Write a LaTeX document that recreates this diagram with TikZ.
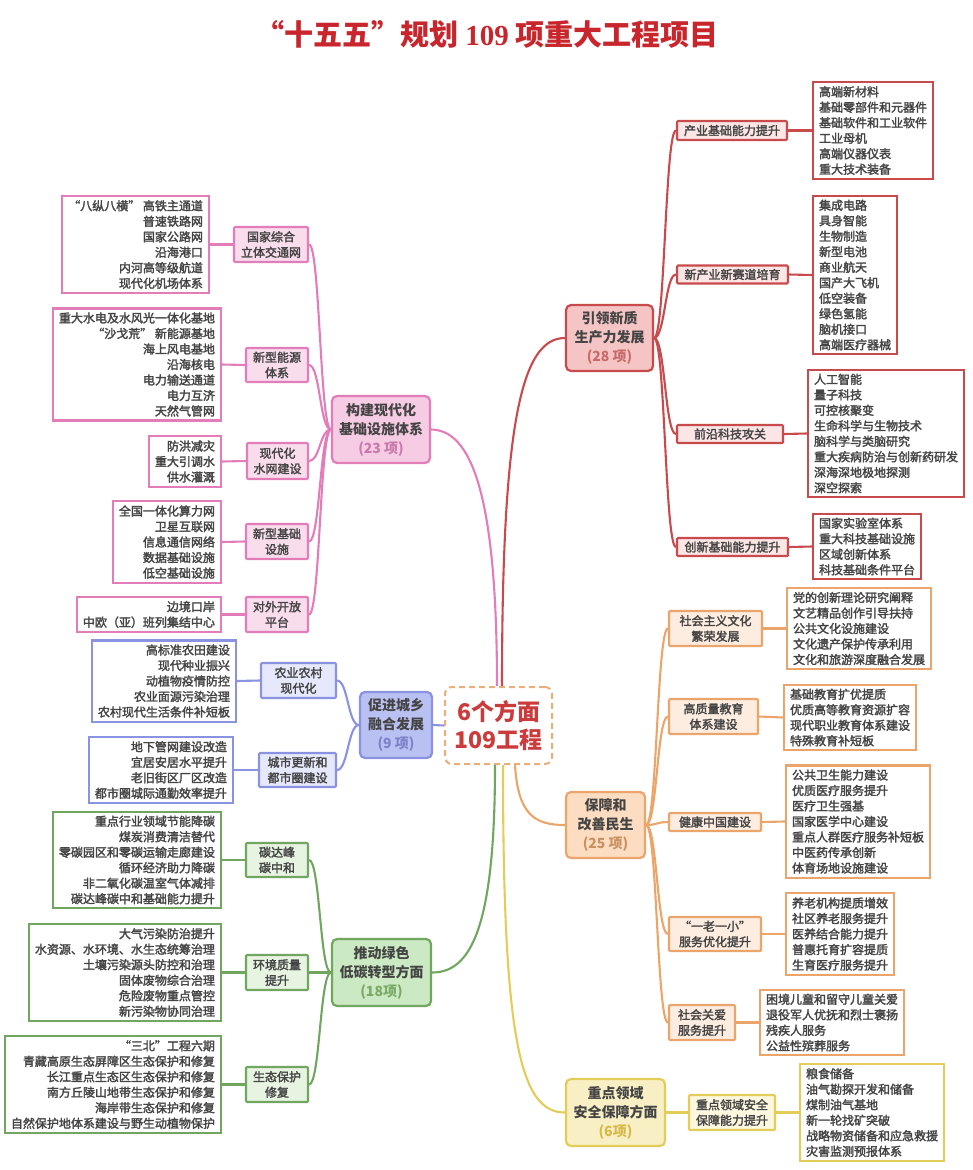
\documentclass[tikz,border=0pt]{standalone}
\usepackage{fontspec}
\setmainfont{Noto Sans CJK SC}
\newfontfamily\cjkm{Noto Sans CJK SC}[FakeBold=2.2]
\newfontfamily\serifb{Liberation Serif}
\usetikzlibrary{calc}
\definecolor{tc}{HTML}{444444}
\definecolor{rc}{HTML}{C94A4C}\definecolor{rmf}{HTML}{F5C5C5}\definecolor{rsf}{HTML}{FBE5E5}\definecolor{rct}{HTML}{C86A6A}
\definecolor{pc}{HTML}{E27DB9}\definecolor{pmf}{HTML}{F6CBE4}\definecolor{psf}{HTML}{F9DDED}\definecolor{pct}{HTML}{C87AAA}
\definecolor{lc}{HTML}{8A92E2}\definecolor{lmf}{HTML}{B9C0F2}\definecolor{lsf}{HTML}{E6E8FB}\definecolor{lct}{HTML}{7C82C8}
\definecolor{gc}{HTML}{70A660}\definecolor{gmf}{HTML}{CBE9C2}\definecolor{gsf}{HTML}{E8F4E2}\definecolor{gct}{HTML}{7AAA66}
\definecolor{oc}{HTML}{EBA56A}\definecolor{omf}{HTML}{FCDDC2}\definecolor{osf}{HTML}{FDEDE0}\definecolor{oct}{HTML}{C99060}
\definecolor{yc}{HTML}{E3CC58}\definecolor{ymf}{HTML}{F8F0C4}\definecolor{ysf}{HTML}{FCF7DE}\definecolor{yct}{HTML}{D8B848}
\definecolor{ctrc}{HTML}{EBAE78}\definecolor{ctrt}{HTML}{CC3B3B}\definecolor{titler}{HTML}{C8262C}
\tikzset{
  x=1pt, y=-1pt,
  itembox/.style={draw=#1, fill=white, line width=2.1pt, inner xsep=6pt, inner ysep=4pt,
    font=\cjkm\fontsize{12}{15.5}\selectfont, text=tc},
  itemL/.style={itembox=#1, align=left, anchor=west},
  itemR/.style={itembox=#1, align=right, anchor=east},
  subbox/.style 2 args={draw=#1, fill=#2, line width=2.1pt, inner sep=1pt, rounded corners=1pt,
    align=center, font=\cjkm\fontsize{12}{15.5}\selectfont, text=tc},
  mainbox/.style 2 args={draw=#1, fill=#2, line width=2.2pt, rounded corners=5pt, align=center,
    font=\bfseries\fontsize{14}{19}\selectfont, text=tc, inner sep=1pt},
  conn/.style={draw=#1, line width=2.1pt},
  branch/.style={to path={.. controls ($(\tikztostart)!0.5!(\tikztotarget |- \tikztostart)$) and ($(\tikztotarget)!0.5!(\tikztostart |- \tikztotarget)$) .. (\tikztotarget)}},
}
\begin{document}
\begin{tikzpicture}
\fill[white] (0,0) rectangle (972,1170);
\useasboundingbox (0,0) rectangle (972,1170);

% title
\node[font=\bfseries\fontsize{29}{32}\selectfont, text=titler] (title) at (487,34)
  {“十五五”规划 {\serifb\bfseries 109} 项重大工程项目};

% center
\node[draw=ctrc, fill=white, line width=2pt, dash pattern=on 6pt off 4pt, rounded corners=7pt,
  minimum width=107pt, minimum height=77pt, align=center, text=ctrt,
  font=\bfseries\fontsize{23}{28}\selectfont] (ctr) at (498.5,725.5) {6个方面\\109工程};

% main nodes
\node[mainbox={rc}{rmf}, minimum width=87pt, minimum height=66pt] (rm) at (609.5,338)
  {引领新质\\生产力发展\\\textcolor{rct}{(28 项)}};
\node[mainbox={pc}{pmf}, minimum width=98pt, minimum height=67pt] (pm) at (381,429.5)
  {构建现代化\\基础设施体系\\\textcolor{pct}{(23 项)}};
\node[mainbox={lc}{lmf}, minimum width=72pt, minimum height=66pt] (lm) at (396,725)
  {促进城乡\\融合发展\\\textcolor{lct}{(9 项)}};
\node[mainbox={gc}{gmf}, minimum width=99pt, minimum height=67pt] (gm) at (381.5,972.5)
  {推动绿色\\低碳转型方面\\\textcolor{gct}{(18项)}};
\node[mainbox={oc}{omf}, minimum width=79pt, minimum height=66pt] (om) at (605.5,825)
  {保障和\\改善民生\\\textcolor{oct}{(25 项)}};
\node[mainbox={yc}{ymf}, minimum width=99pt, minimum height=67pt] (ym) at (615.5,1112.5)
  {重点领域\\安全保障方面\\\textcolor{yct}{(6项)}};

% center connectors
\draw[conn=rc] ($(ctr.north)+(3.5,0)$) .. controls (502,420) and (522,338) .. (rm.west);
\draw[conn=pc] ($(ctr.north)+(-1.5,0)$) .. controls (497,490) and (470,430) .. (pm.east);
\draw[conn=lc] (ctr.west) -- (lm.east);
\draw[conn=gc] ($(ctr.south)+(-3.5,0)$) .. controls (495,930) and (470,972.5) .. (gm.east);
\draw[conn=oc] ($(ctr.south)+(16.5,0)$) .. controls (518,815) and (535,825) .. (om.west);
\draw[conn=yc] ($(ctr.south)+(4.5,0)$) .. controls (503,1040) and (520,1112.5) .. (ym.west);

% ---------- red branch
\node[subbox={rc}{rsf}, minimum width=110pt, minimum height=19pt] (rs1) at (732,130.5) {产业基础能力提升};
\node[subbox={rc}{rsf}, minimum width=111pt, minimum height=18pt] (rs2) at (732.5,274.5) {新产业新赛道培育};
\node[subbox={rc}{rsf}, minimum width=106pt, minimum height=18pt] (rs3) at (730,434) {前沿科技攻关};
\node[subbox={rc}{rsf}, minimum width=111pt, minimum height=18pt] (rs4) at (732.5,547) {创新基础能力提升};
\node[itemL=rc] (ri1) at (812,130.5) {高端新材料\\基础零部件和元器件\\基础软件和工业软件\\工业母机\\高端仪器仪表\\重大技术装备};
\node[itemL=rc] (ri2) at (812,275) {集成电路\\具身智能\\生物制造\\新型电池\\商业航天\\国产大飞机\\低空装备\\绿色氢能\\脑机接口\\高端医疗器械};
\node[itemL=rc] (ri3) at (807,433.5) {人工智能\\量子科技\\可控核聚变\\生命科学与生物技术\\脑科学与类脑研究\\重大疾病防治与创新药研发\\深海深地极地探测\\深空探索};
\node[itemL=rc] (ri4) at (812,546.5) {国家实验室体系\\重大科技基础设施\\区域创新体系\\科技基础条件平台};
\foreach \i in {1,...,4}{
  \draw[conn=rc, branch] (rm.east) to (rs\i.west);
  \draw[conn=rc] (rs\i.east) -- (ri\i.west);
}

% ---------- pink branch
\node[subbox={pc}{psf}, minimum width=74pt, minimum height=35pt] (ps1) at (271,244.5) {国家综合\\立体交通网};
\node[subbox={pc}{psf}, minimum width=62pt, minimum height=34pt] (ps2) at (277,365) {新型能源\\体系};
\node[subbox={pc}{psf}, minimum width=61pt, minimum height=36pt] (ps3) at (277.5,461) {现代化\\水网建设};
\node[subbox={pc}{psf}, minimum width=62pt, minimum height=35pt] (ps4) at (277,541.5) {新型基础\\设施};
\node[subbox={pc}{psf}, minimum width=62pt, minimum height=35pt] (ps5) at (277,614.5) {对外开放\\平台};
\node[itemR=pc] (pi1) at (210,244.5) {“八纵八横” 高铁主通道\\普速铁路网\\国家公路网\\沿海港口\\内河高等级航道\\现代化机场体系};
\node[itemR=pc] (pi2) at (222,364.5) {重大水电及水风光一体化基地\\“沙戈荒” 新能源基地\\海上风电基地\\沿海核电\\电力输送通道\\电力互济\\天然气管网};
\node[itemR=pc] (pi3) at (222,461.5) {防洪减灾\\重大引调水\\供水灌溉};
\node[itemR=pc] (pi4) at (222,542) {全国一体化算力网\\卫星互联网\\信息通信网络\\数据基础设施\\低空基础设施};
\node[itemR=pc] (pi5) at (222,614.5) {边境口岸\\中欧（亚）班列集结中心};
\foreach \i in {1,...,5}{
  \draw[conn=pc, branch] (pm.west) to (ps\i.east);
  \draw[conn=pc] (ps\i.west) -- (pi\i.east);
}

% ---------- lavender branch
\node[subbox={lc}{lsf}, minimum width=75pt, minimum height=35pt] (ls1) at (298.5,680.5) {农业农村\\现代化};
\node[subbox={lc}{lsf}, minimum width=77pt, minimum height=34pt] (ls2) at (297.5,770) {城市更新和\\都市圈建设};
\node[itemR=lc] (li1) at (237,681) {高标准农田建设\\现代种业振兴\\动植物疫情防控\\农业面源污染治理\\农村现代生活条件补短板};
\node[itemR=lc] (li2) at (234,770) {地下管网建设改造\\宜居安居水平提升\\老旧街区厂区改造\\都市圈城际通勤效率提升};
\foreach \i in {1,2}{
  \draw[conn=lc, branch] (lm.west) to (ls\i.east);
  \draw[conn=lc] (ls\i.west) -- (li\i.east);
}

% ---------- green branch
\node[subbox={gc}{gsf}, minimum width=62pt, minimum height=34pt] (gs1) at (277,860) {碳达峰\\碳中和};
\node[subbox={gc}{gsf}, minimum width=62pt, minimum height=35pt] (gs2) at (277,972.5) {环境质量\\提升};
\node[subbox={gc}{gsf}, minimum width=62pt, minimum height=35pt] (gs3) at (277,1084.5) {生态保护\\修复};
\node[itemR=gc] (gi1) at (222,860) {重点行业领域节能降碳\\煤炭消费清洁替代\\零碳园区和零碳运输走廊建设\\循环经济助力降碳\\非二氧化碳温室气体减排\\碳达峰碳中和基础能力提升};
\node[itemR=gc] (gi2) at (222,972.5) {大气污染防治提升\\水资源、水环境、水生态统筹治理\\土壤污染源头防控和治理\\固体废物综合治理\\危险废物重点管控\\新污染物协同治理};
\node[itemR=gc] (gi3) at (222,1084.5) {“三北”工程六期\\青藏高原生态屏障区生态保护和修复\\长江重点生态区生态保护和修复\\南方丘陵山地带生态保护和修复\\海岸带生态保护和修复\\自然保护地体系建设与野生动植物保护};
\foreach \i in {1,...,3}{
  \draw[conn=gc, branch] (gm.west) to (gs\i.east);
  \draw[conn=gc] (gs\i.west) -- (gi\i.east);
}

% ---------- orange branch
\node[subbox={oc}{osf}, minimum width=93pt, minimum height=35pt] (os1) at (715.5,628.5) {社会主义文化\\繁荣发展};
\node[subbox={oc}{osf}, minimum width=89pt, minimum height=35pt] (os2) at (713.5,716.5) {高质量教育\\体系建设};
\node[subbox={oc}{osf}, minimum width=92pt, minimum height=18pt] (os3) at (715,822) {健康中国建设};
\node[subbox={oc}{osf}, minimum width=92pt, minimum height=34pt] (os4) at (715,934) {“一老一小”\\服务优化提升};
\node[subbox={oc}{osf}, minimum width=66pt, minimum height=35pt] (os5) at (702,1022.5) {社会关爱\\服务提升};
\node[itemL=oc] (oi1) at (786,628.5) {党的创新理论研究阐释\\文艺精品创作引导扶持\\公共文化设施建设\\文化遗产保护传承利用\\文化和旅游深度融合发展};
\node[itemL=oc] (oi2) at (783,717.5) {基础教育扩优提质\\优质高等教育资源扩容\\现代职业教育体系建设\\特殊教育补短板};
\node[itemL=oc] (oi3) at (785,821.5) {公共卫生能力建设\\优质医疗服务提升\\医疗卫生强基\\国家医学中心建设\\重点人群医疗服务补短板\\中医药传承创新\\体育场地设施建设};
\node[itemL=oc] (oi4) at (785,934) {养老机构提质增效\\社区养老服务提升\\医养结合能力提升\\普惠托育扩容提质\\生育医疗服务提升};
\node[itemL=oc] (oi5) at (759,1022.5) {困境儿童和留守儿童关爱\\退役军人优抚和烈士褒扬\\残疾人服务\\公益性殡葬服务};
\foreach \i in {1,...,5}{
  \draw[conn=oc, branch] (om.east) to (os\i.west);
  \draw[conn=oc] (os\i.east) -- (oi\i.west);
}

% ---------- yellow branch
\node[subbox={yc}{ysf}, minimum width=86pt, minimum height=35pt] (ys1) at (732,1112.5) {重点领域安全\\保障能力提升};
\node[itemL=yc] (yi1) at (799,1112.5) {粮食储备\\油气勘探开发和储备\\煤制油气基地\\新一轮找矿突破\\战略物资储备和应急救援\\灾害监测预报体系};
\draw[conn=yc] (ym.east) -- (ys1.west);
\draw[conn=yc] (ys1.east) -- (yi1.west);
\end{tikzpicture}
\end{document}
